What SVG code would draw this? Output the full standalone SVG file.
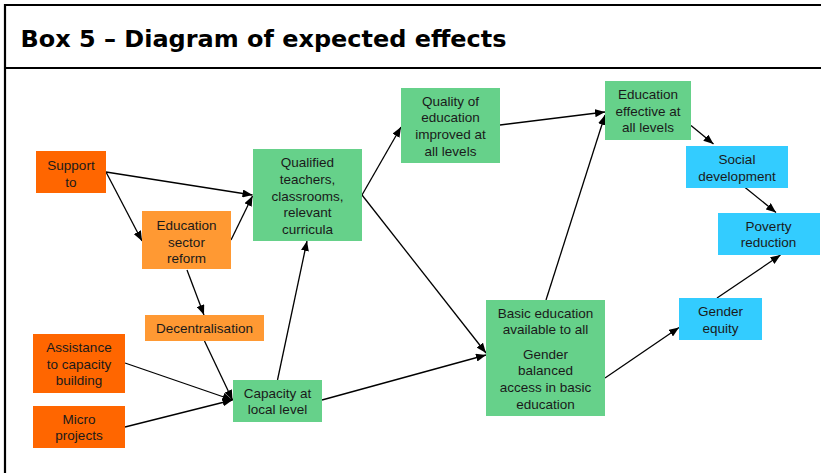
<svg xmlns="http://www.w3.org/2000/svg" width="821" height="473" viewBox="0 0 821 473">
  <style>
    .frame { stroke: #000; stroke-width: 2.2; fill: none; }
    .title { font-family: "DejaVu Sans", Verdana, sans-serif; font-weight: bold; font-size: 22.5px; fill: #000; }
    .lbl { font-family: "Liberation Sans", Arial, sans-serif; font-size: 13.5px; fill: #1a1a1a; text-anchor: middle; }
    .input { fill: #FF6600; }
    .reform { fill: #FF9933; }
    .outcome { fill: #66D18A; }
    .impact { fill: #33CCFF; }
    .edge { stroke: #000; stroke-width: 1.3; fill: none; marker-end: url(#arrow); }
  </style>
  <defs>
    <marker id="arrow" viewBox="0 0 10 8" refX="10" refY="4" markerWidth="10" markerHeight="8" markerUnits="userSpaceOnUse" orient="auto">
      <path d="M0,0 L10,4 L0,8 Z" fill="#000"/>
    </marker>
  </defs>

  <rect width="821" height="473" fill="#fff"/>

  <!-- frame and heading -->
  <path class="frame" d="M821,5 H5 V473 M5,68 H821"/>
  <text class="title" x="20.5" y="46.8" textLength="486" lengthAdjust="spacingAndGlyphs">Box 5 – Diagram of expected effects</text>

  <!-- connectors -->
  <g id="connectors">
    <line class="edge" x1="106" y1="172" x2="252.5" y2="195"/>
    <line class="edge" x1="106" y1="172" x2="142" y2="241"/>
    <line class="edge" x1="231" y1="240" x2="252.5" y2="196"/>
    <line class="edge" x1="187" y1="270" x2="204" y2="315"/>
    <line class="edge" x1="204.5" y1="341" x2="232.5" y2="400"/>
    <line class="edge" x1="125" y1="363" x2="232.5" y2="400"/>
    <line class="edge" x1="125" y1="427" x2="232.5" y2="400"/>
    <line class="edge" x1="277.5" y1="380" x2="307" y2="241"/>
    <line class="edge" x1="322" y1="400" x2="486" y2="355"/>
    <line class="edge" x1="362" y1="195" x2="401" y2="127"/>
    <line class="edge" x1="362" y1="195" x2="486" y2="353"/>
    <line class="edge" x1="500" y1="125" x2="605" y2="112"/>
    <line class="edge" x1="546" y1="300" x2="605" y2="115"/>
    <line class="edge" x1="691" y1="125.5" x2="713.5" y2="144"/>
    <line class="edge" x1="744.5" y1="187" x2="776" y2="212.5"/>
    <line class="edge" x1="717" y1="298" x2="780.5" y2="255"/>
    <line class="edge" x1="605" y1="378" x2="679" y2="327.5"/>
  </g>

  <!-- nodes -->
  <g id="support">
    <rect class="input" x="36" y="151" width="70" height="42"/>
    <text class="lbl" x="71" y="169.5">Support</text>
    <text class="lbl" x="71" y="186.5">to</text>
  </g>
  <g id="sector-reform">
    <rect class="reform" x="142" y="211" width="89" height="58"/>
    <text class="lbl" x="186.5" y="229.5">Education</text>
    <text class="lbl" x="186.5" y="246.5">sector</text>
    <text class="lbl" x="186.5" y="263">reform</text>
  </g>
  <g id="decentralisation">
    <rect class="reform" x="145" y="315" width="119" height="26"/>
    <text class="lbl" x="204.5" y="333">Decentralisation</text>
  </g>
  <g id="capacity-assistance">
    <rect class="input" x="33" y="334" width="92" height="59"/>
    <text class="lbl" x="79" y="352">Assistance</text>
    <text class="lbl" x="79" y="368.5">to capacity</text>
    <text class="lbl" x="79" y="384.5">building</text>
  </g>
  <g id="micro-projects">
    <rect class="input" x="33" y="406" width="92" height="42"/>
    <text class="lbl" x="79" y="423.5">Micro</text>
    <text class="lbl" x="79" y="440">projects</text>
  </g>
  <g id="local-capacity">
    <rect class="outcome" x="233" y="380" width="89" height="42"/>
    <text class="lbl" x="277.5" y="398">Capacity at</text>
    <text class="lbl" x="277.5" y="414">local level</text>
  </g>
  <g id="qualified-teachers">
    <rect class="outcome" x="253" y="149" width="109" height="92"/>
    <text class="lbl" x="307.5" y="167">Qualified</text>
    <text class="lbl" x="307.5" y="184">teachers,</text>
    <text class="lbl" x="307.5" y="200.5">classrooms,</text>
    <text class="lbl" x="307.5" y="217">relevant</text>
    <text class="lbl" x="307.5" y="234">curricula</text>
  </g>
  <g id="quality-improved">
    <rect class="outcome" x="401" y="88" width="99" height="75"/>
    <text class="lbl" x="450.5" y="106">Quality of</text>
    <text class="lbl" x="450.5" y="122">education</text>
    <text class="lbl" x="450.5" y="138.5">improved at</text>
    <text class="lbl" x="450.5" y="155.5">all levels</text>
  </g>
  <g id="basic-education">
    <rect class="outcome" x="486" y="300" width="119" height="116"/>
    <text class="lbl" x="545.5" y="318">Basic education</text>
    <text class="lbl" x="545.5" y="334">available to all</text>
    <text class="lbl" x="545.5" y="358.5">Gender</text>
    <text class="lbl" x="545.5" y="375">balanced</text>
    <text class="lbl" x="545.5" y="392">access in basic</text>
    <text class="lbl" x="545.5" y="408.5">education</text>
  </g>
  <g id="education-effective">
    <rect class="outcome" x="605" y="81" width="86" height="59"/>
    <text class="lbl" x="648" y="99">Education</text>
    <text class="lbl" x="648" y="116">effective at</text>
    <text class="lbl" x="648" y="132">all levels</text>
  </g>
  <g id="social-development">
    <rect class="impact" x="686" y="146" width="102" height="42"/>
    <text class="lbl" x="737" y="164">Social</text>
    <text class="lbl" x="737" y="180.5">development</text>
  </g>
  <g id="poverty-reduction">
    <rect class="impact" x="718" y="213" width="102" height="42"/>
    <text class="lbl" x="768.5" y="231">Poverty</text>
    <text class="lbl" x="768.5" y="247">reduction</text>
  </g>
  <g id="gender-equity">
    <rect class="impact" x="679" y="298" width="83" height="42"/>
    <text class="lbl" x="720.5" y="316">Gender</text>
    <text class="lbl" x="720.5" y="333">equity</text>
  </g>
</svg>
